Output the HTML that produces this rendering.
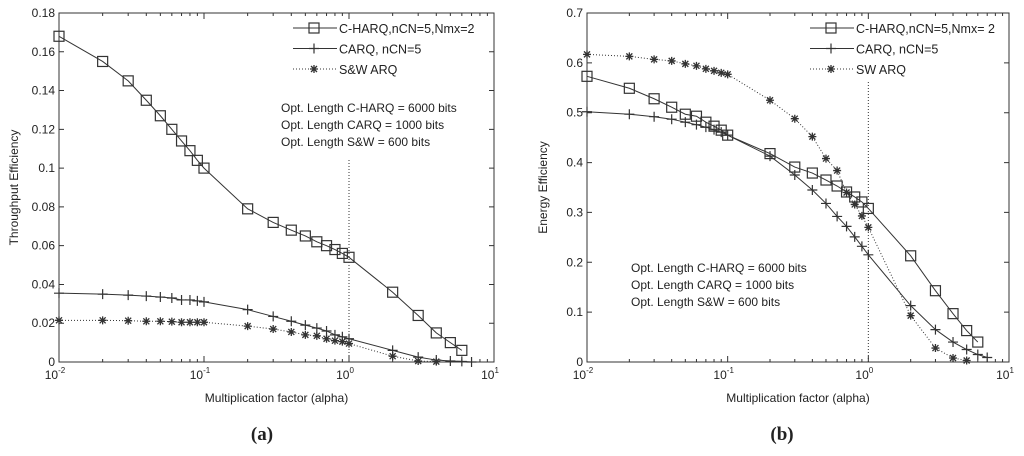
<!DOCTYPE html>
<html><head><meta charset="utf-8"><style>
body{margin:0;background:#fff;}
svg text{font-family:"Liberation Sans",sans-serif;fill:#222;}
</style></head><body>
<svg id="s" width="1024" height="451" xmlns="http://www.w3.org/2000/svg"></svg>
<script>
const alphaValues=[0.01,0.02,0.03,0.04,0.05,0.06,0.07,0.08,0.09,0.1,0.2,0.3,0.4,0.5,0.6,0.7,0.8,0.9,1,2,3,4,5,6,7];
const thrCharq=[0.168,0.155,0.145,0.135,0.127,0.120,0.114,0.109,0.104,0.100,0.079,0.072,0.068,0.065,0.062,0.060,0.058,0.056,0.054,0.036,0.024,0.015,0.010,0.006];
const thrCarq=[0.0355,0.035,0.0345,0.034,0.0335,0.033,0.032,0.032,0.0315,0.031,0.027,0.0235,0.021,0.019,0.0175,0.016,0.014,0.013,0.012,0.006,0.0025,0.001,0.0005,0.0003,0];
const thrSw=[0.0215,0.0215,0.0213,0.021,0.021,0.0208,0.0205,0.0205,0.0205,0.0205,0.0185,0.017,0.0155,0.014,0.0135,0.012,0.011,0.0105,0.0095,0.003,0.0005,0.0002];
const enCharq=[0.573,0.549,0.528,0.511,0.497,0.493,0.481,0.473,0.465,0.455,0.418,0.391,0.379,0.365,0.353,0.341,0.331,0.321,0.308,0.213,0.143,0.097,0.063,0.040];
const enCarq=[0.502,0.497,0.492,0.487,0.481,0.476,0.471,0.466,0.461,0.455,0.413,0.375,0.345,0.318,0.292,0.272,0.251,0.232,0.215,0.113,0.065,0.040,0.025,0.015,0.009];
const enSw=[0.617,0.613,0.607,0.604,0.598,0.594,0.588,0.584,0.580,0.577,0.525,0.488,0.452,0.408,0.384,0.340,0.316,0.293,0.270,0.093,0.028,0.008,0.003];
const thrTicks=["0","0.02","0.04","0.06","0.08","0.1","0.12","0.14","0.16","0.18"];
const enTicks=["0","0.1","0.2","0.3","0.4","0.5","0.6","0.7"];
const xTickExp=["-2","-1","0","1"];
const annot=["Opt. Length C-HARQ = 6000 bits","Opt. Length CARQ = 1000 bits","Opt. Length S&W = 600 bits"];

const S=document.getElementById('s');const NS='http://www.w3.org/2000/svg';
function mk(tag,attrs,parent,name,txt){const e=document.createElementNS(NS,tag);for(const k in attrs)e.setAttribute(k,attrs[k]);


if(txt!==undefined)e.textContent=txt;(parent||S).appendChild(e);return e;}
const C='#333';
function marker(g,type,x,y,name){
 if(type==='sq')mk('rect',{x:x-5,y:y-5,width:10,height:10,fill:'none',stroke:C,'stroke-width':1.2},g,name);
 else if(type==='plus')mk('path',{d:`M${x-5} ${y}H${x+5}M${x} ${y-5}V${y+5}`,stroke:C,'stroke-width':1.2},g,name);
 else mk('path',{d:`M${x-4} ${y}H${x+4}M${x} ${y-4}V${y+4}M${x-3} ${y-3}L${x+3} ${y+3}M${x-3} ${y+3}L${x+3} ${y-3}`,stroke:C,'stroke-width':1.3},g,name);
}
function panel(p){
 const g=mk('g',{},S,p.name);
 const L=p.x0,R=p.x1,T=13,B=362;
 const xs=v=>L+(Math.log10(v)+2)/3*(R-L);
 const ys=v=>B-v/p.ymax*(B-T);
 mk('rect',{x:L,y:T,width:R-L,height:B-T,fill:'#fff',stroke:C,'stroke-width':1},g,'plot-area');
 p.ticks.forEach((t,i)=>{const y=ys(parseFloat(t));
  mk('path',{d:`M${L} ${y}h5M${R} ${y}h-5`,stroke:C},g,'y-tick');
  mk('text',{x:L-4,y:y+4,'text-anchor':'end','font-size':12},g,'y-tick-label',t);});
 xTickExp.forEach(e=>{const x=xs(Math.pow(10,+e));
  mk('path',{d:`M${x} ${B}v-6M${x} ${T}v6`,stroke:C},g,'x-tick');
  const t=mk('text',{x:x-4,y:B+17,'text-anchor':'middle','font-size':12},g,'x-tick-label','10');
  mk('tspan',{dy:-6,'font-size':8},t,'x-tick-exponent',e);
  for(let k=2;k<10&&+e<1;k++){const xm=xs(k*Math.pow(10,+e));mk('path',{d:`M${xm} ${B}v-3M${xm} ${T}v3`,stroke:C},g,'x-minor-tick');}
 });
 mk('line',{x1:xs(1),x2:xs(1),y1:p.vy,y2:B,stroke:C,'stroke-dasharray':'1 2'},g,'reference-line');
 p.series.forEach(s=>{
  const pts=s.data.map((v,i)=>[xs(alphaValues[i]),ys(v)]);
  mk('polyline',{points:pts.map(q=>q.join(',')).join(' '),fill:'none',stroke:C,'stroke-width':1,'stroke-dasharray':s.dash||''},g,s.name+'-line');
  pts.forEach(q=>marker(g,s.m,q[0],q[1],s.name+'-marker'));
 });
 p.series.forEach((s,i)=>{const y=28+i*20.5;
  mk('line',{x1:p.lx,x2:p.lx+44,y1:y,y2:y,stroke:C,'stroke-dasharray':s.dash||''},g,'legend-line');
  marker(g,s.m,p.lx+21,y,'legend-marker');
  mk('text',{x:p.lx+46,y:y+5,'font-size':12.5},g,'legend-entry',s.label);});
 annot.forEach((a,i)=>mk('text',{x:p.ax,y:p.ay+i*17,'font-size':12},g,'annotation',a));
 mk('text',{x:(L+R)/2,y:402,'text-anchor':'middle','font-size':12},g,'x-axis-title','Multiplication factor (alpha)');
 mk('text',{x:p.ylx,y:(T+B)/2,'text-anchor':'middle','font-size':12,transform:`rotate(-90 ${p.ylx} ${(T+B)/2})`},g,'y-axis-title',p.ylabel);
 const c=mk('text',{x:p.cx,y:440,'text-anchor':'middle','font-size':19,'font-weight':'bold',style:'font-family:"Liberation Serif",serif'},g,'panel-caption',p.cap);
}
panel({name:'throughput-chart',x0:59,x1:494,ymax:0.18,ticks:thrTicks,vy:160,lx:293,ax:281,ay:112,ylx:18,ylabel:'Throughput Efficiency',cx:262,cap:'(a)',
 series:[{name:'c-harq',data:thrCharq,m:'sq',label:'C-HARQ,nCN=5,Nmx=2'},{name:'carq',data:thrCarq,m:'plus',label:'CARQ, nCN=5'},{name:'sw-arq',data:thrSw,m:'star',dash:'1 2',label:'S&W ARQ'}]});
panel({name:'energy-chart',x0:587,x1:1009,ymax:0.7,ticks:enTicks,vy:82,lx:810,ax:631,ay:272,ylx:547,ylabel:'Energy Efficiency',cx:782,cap:'(b)',
 series:[{name:'c-harq',data:enCharq,m:'sq',label:'C-HARQ,nCN=5,Nmx= 2'},{name:'carq',data:enCarq,m:'plus',label:'CARQ, nCN=5'},{name:'sw-arq',data:enSw,m:'star',dash:'1 2',label:'SW ARQ'}]});
</script>
</body></html>
